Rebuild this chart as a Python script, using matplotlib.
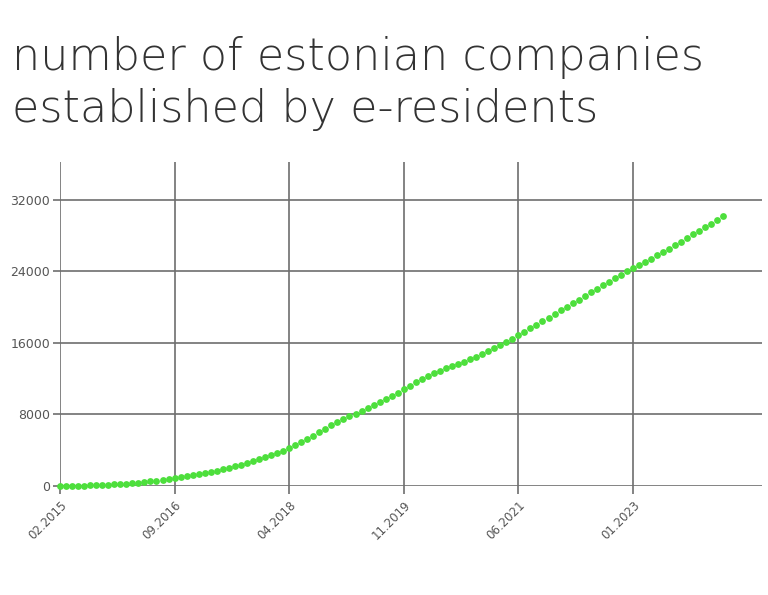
import numpy as np
import matplotlib
matplotlib.use("Agg")
import matplotlib.pyplot as plt

# monthly totals, 02.2015 .. 04.2024
companies = [
    0, 10, 20, 35, 50, 65, 85, 110, 140, 175,
    215, 270, 320, 380, 440, 510, 600, 700, 800, 900,
    1000, 1100, 1210, 1330, 1450, 1580, 1720, 1870, 2030, 2200,
    2380, 2570, 2770, 2980, 3200, 3440, 3700, 3970, 4250, 4580,
    4920, 5280, 5650, 6030, 6420, 6800, 7150, 7480, 7800, 8100,
    8400, 8700, 9020, 9350, 9700, 10050, 10420, 10800, 11200, 11600,
    12000, 12350, 12650, 12900, 13150, 13400, 13650, 13900, 14180, 14480,
    14800, 15120, 15450, 15800, 16150, 16500, 16850, 17250, 17650, 18050,
    18450, 18850, 19250, 19650, 20050, 20450, 20850, 21250, 21650, 22050,
    22450, 22850, 23250, 23650, 24050, 24400, 24750, 25100, 25450, 25800,
    26150, 26550, 26950, 27350, 27750, 28150, 28550, 28950, 29350, 29800,
    30250,
]
x_tick_pos = [0, 19, 38, 57, 76, 95]
x_tick_labels = ["02.2015", "09.2016", "04.2018", "11.2019", "06.2021", "01.2023"]
y_ticks = [0, 8000, 16000, 24000, 32000]

months = np.arange(len(companies))

fig = plt.figure(figsize=(7.68, 5.95), dpi=100)
ax = fig.add_axes([60 / 768, 109 / 595, 702 / 768, 324 / 595])

grid_col = "#6e6e6e"
ax.set_xlim(0, 116.4)
ax.set_ylim(0, 36250)
ax.set_xticks(x_tick_pos)
ax.set_xticklabels(x_tick_labels, rotation=45, ha="right", rotation_mode="anchor",
                   fontsize=8.5, color="#555555")
ax.set_yticks(y_ticks)
ax.set_yticklabels([str(v) for v in y_ticks], fontsize=9, color="#555555")
ax.grid(True, color=grid_col, linewidth=1.2)
ax.set_axisbelow(True)
ax.tick_params(axis="x", length=6, width=1.2, color=grid_col, pad=3)
ax.tick_params(axis="y", length=5, width=1.2, color=grid_col, pad=2)
for s in ax.spines.values():
    s.set_visible(False)

ax.plot(months, companies, "o", color="#4ddf3c", markersize=4.9,
        markeredgewidth=0, clip_on=False, zorder=3)

fig.text(12 / 768, 1 - 122 / 595, "number of estonian companies\nestablished by e-residents",
         fontsize=32, family="DejaVu Sans", fontweight=200, color="#333333",
         va="baseline", ha="left", linespacing=1.27)

fig.savefig("out.png", dpi=100, facecolor="white")
